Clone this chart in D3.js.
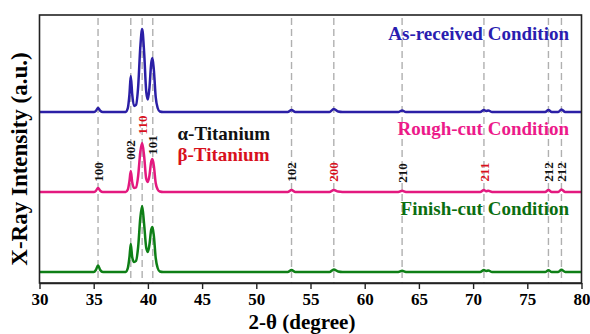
<!DOCTYPE html>
<html><head><meta charset="utf-8">
<script src="https://cdn.jsdelivr.net/npm/d3@7/dist/d3.min.js"></script>
<style>body{margin:0;background:#fff}svg{display:block}</style>
</head><body>
<svg id="c" width="590" height="334"></svg>
<script>
// ---- data (2θ in degrees, intensity in arbitrary units above each trace's baseline) ----
const seriesNames = ["As-received Condition", "Rough-cut Condition", "Finish-cut Condition"];
const seriesOffsets = [1710, 910, 110];
const asReceived = [[30,0],[35.0,0],[35.2,12],[35.4,40],[35.6,12],[35.85,0],
 [37.95,0],[38.15,40],[38.3,180],[38.42,360],[38.55,180],[38.72,60],[38.9,70],[39.1,250],[39.3,650],[39.47,830],[39.65,600],[39.85,200],[40.0,125],[40.15,250],[40.3,480],[40.42,540],[40.55,420],[40.72,150],[40.9,40],[41.1,5],[41.4,0],
 [52.9,0],[53.25,20],[53.6,0],[56.75,0],[57.15,30],[57.55,5],[57.95,0],[63.1,0],[63.45,15],[63.8,0],
 [70.65,0],[71.0,20],[71.2,10],[71.4,15],[71.75,0],[76.65,0],[76.95,20],[77.25,0],[77.85,0],[78.15,25],[78.5,0],[80,0]];
const roughCut = [[30,0],[35.0,0],[35.2,12],[35.4,40],[35.6,12],[35.85,0],
 [37.95,0],[38.15,25],[38.3,110],[38.42,210],[38.55,100],[38.72,40],[38.9,45],[39.1,160],[39.3,400],[39.47,490],[39.65,360],[39.85,130],[40.0,100],[40.15,170],[40.3,300],[40.42,330],[40.55,260],[40.72,90],[40.9,25],[41.1,5],[41.4,0],
 [52.9,0],[53.25,20],[53.6,0],[56.75,0],[57.15,20],[57.55,4],[57.95,0],[63.1,0],[63.45,12],[63.8,0],
 [70.65,0],[71.0,20],[71.2,8],[71.4,12],[71.75,0],[76.65,0],[76.95,20],[77.25,0],[77.85,0],[78.15,25],[78.5,0],[80,0]];
const finishCut = [[30,0],[35.0,0],[35.2,20],[35.4,65],[35.6,20],[35.85,0],
 [37.95,0],[38.15,40],[38.3,150],[38.42,280],[38.55,150],[38.72,100],[38.9,110],[39.1,250],[39.3,540],[39.47,660],[39.65,480],[39.85,240],[40.0,200],[40.15,280],[40.3,420],[40.42,450],[40.55,360],[40.72,140],[40.9,40],[41.1,5],[41.4,0],
 [52.9,0],[53.25,20],[53.6,0],[56.75,0],[57.15,25],[57.55,5],[57.95,0],[63.1,0],[63.45,12],[63.8,0],
 [70.65,0],[71.0,20],[71.2,10],[71.4,15],[71.75,0],[76.65,0],[76.95,18],[77.25,0],[77.85,0],[78.15,22],[78.5,0],[80,0]];
const peakPositions = [35.4, 38.42, 39.47, 40.45, 53.25, 57.15, 63.45, 71.0, 76.95, 78.15];
const peakLabels    = ["100","002","110","101","102","200","210","211","212","212"];
const peakPhase     = ["a","a","b","a","a","b","a","b","a","a"];
const xTicks = [30,35,40,45,50,55,60,65,70,75,80];
const phaseNames = ["α-Titanium", "β-Titanium"];

// ---- layout / style ----
const seriesColors = ["#2b1fa6", "#e3197f", "#0e7f16"];
const labelColors  = ["#2a1db0", "#ec1a8a", "#0b6e10"];
const phaseColor = {a:"#111", b:"#d8101c"};
const labelY = [172, 150, 125, 145, 172, 172, 173, 172, 172, 172];
const condLabelY = [39.5, 135, 215];
const L=39.5, R=581.5, T=15, B=283;
const serif = "'Liberation Serif','Times New Roman',serif";

const svg = d3.select("#c");
const x = d3.scaleLinear().domain([30,80]).range([L,R]);
const y = d3.scaleLinear().domain([0,2680]).range([B,T]);

// dashed reference lines
svg.append("g").selectAll("line").data(peakPositions).join("line")
  .attr("x1", d=>x(d)).attr("x2", d=>x(d)).attr("y1", T+3).attr("y2", B)
  .attr("stroke","#b0b0b0").attr("stroke-width",1.4).attr("stroke-dasharray","7,4");

// traces
const line = d3.line().x(d=>x(d[0])).curve(d3.curveMonotoneX);
[asReceived, roughCut, finishCut].forEach((s,i)=>{
  svg.append("path").datum(s)
    .attr("d", line.y(d=>y(d[1]+seriesOffsets[i]))(s))
    .attr("fill","none").attr("stroke",seriesColors[i]).attr("stroke-width",2.5)
    .attr("stroke-linejoin","round");
});

// peak labels
svg.append("g").selectAll("text").data(peakLabels).join("text")
  .attr("transform",(d,i)=>`translate(${x(peakPositions[i])},${labelY[i]}) rotate(-90)`)
  .attr("text-anchor","middle").attr("dy","0.35em")
  .attr("font-family",serif).attr("font-weight","bold").attr("font-size",13)
  .attr("fill",(d,i)=>phaseColor[peakPhase[i]]).text(d=>d);

// condition labels
svg.append("g").selectAll("text").data(seriesNames).join("text")
  .attr("x",569).attr("y",(d,i)=>condLabelY[i]).attr("text-anchor","end")
  .attr("font-family",serif).attr("font-weight","bold").attr("font-size",19)
  .attr("fill",(d,i)=>labelColors[i]).text(d=>d);

// phase legend
svg.append("g").selectAll("text").data(phaseNames).join("text")
  .attr("x",177.5).attr("y",(d,i)=>140+i*21)
  .attr("font-family",serif).attr("font-weight","bold").attr("font-size",19)
  .attr("fill",(d,i)=>i===0?phaseColor.a:phaseColor.b).text(d=>d);

// frame
svg.append("rect").attr("x",L).attr("y",T).attr("width",R-L).attr("height",B-T)
  .attr("fill","none").attr("stroke","#222").attr("stroke-width",1.6);

// x axis
const xa = svg.append("g").attr("transform",`translate(0,${B})`)
  .call(d3.axisBottom(x).tickValues(xTicks).tickSize(6).tickSizeOuter(0).tickFormat(d3.format("d")));
xa.select(".domain").attr("stroke","#222").attr("stroke-width",1.6);
xa.selectAll(".tick line").attr("stroke","#222").attr("stroke-width",1.4);
xa.selectAll(".tick text").attr("font-family",serif).attr("font-weight","bold")
  .attr("font-size",17).attr("fill","#000").attr("dy","0.78em");

// axis titles
svg.append("text").attr("x",302).attr("y",329).attr("text-anchor","middle")
  .attr("font-family",serif).attr("font-weight","bold").attr("font-size",21).text("2-θ (degree)");
svg.append("text").attr("transform","translate(27,159) rotate(-90)").attr("text-anchor","middle")
  .attr("font-family",serif).attr("font-weight","bold").attr("font-size",23).text("X-Ray Intensity (a.u.)");
</script>
</body></html>
